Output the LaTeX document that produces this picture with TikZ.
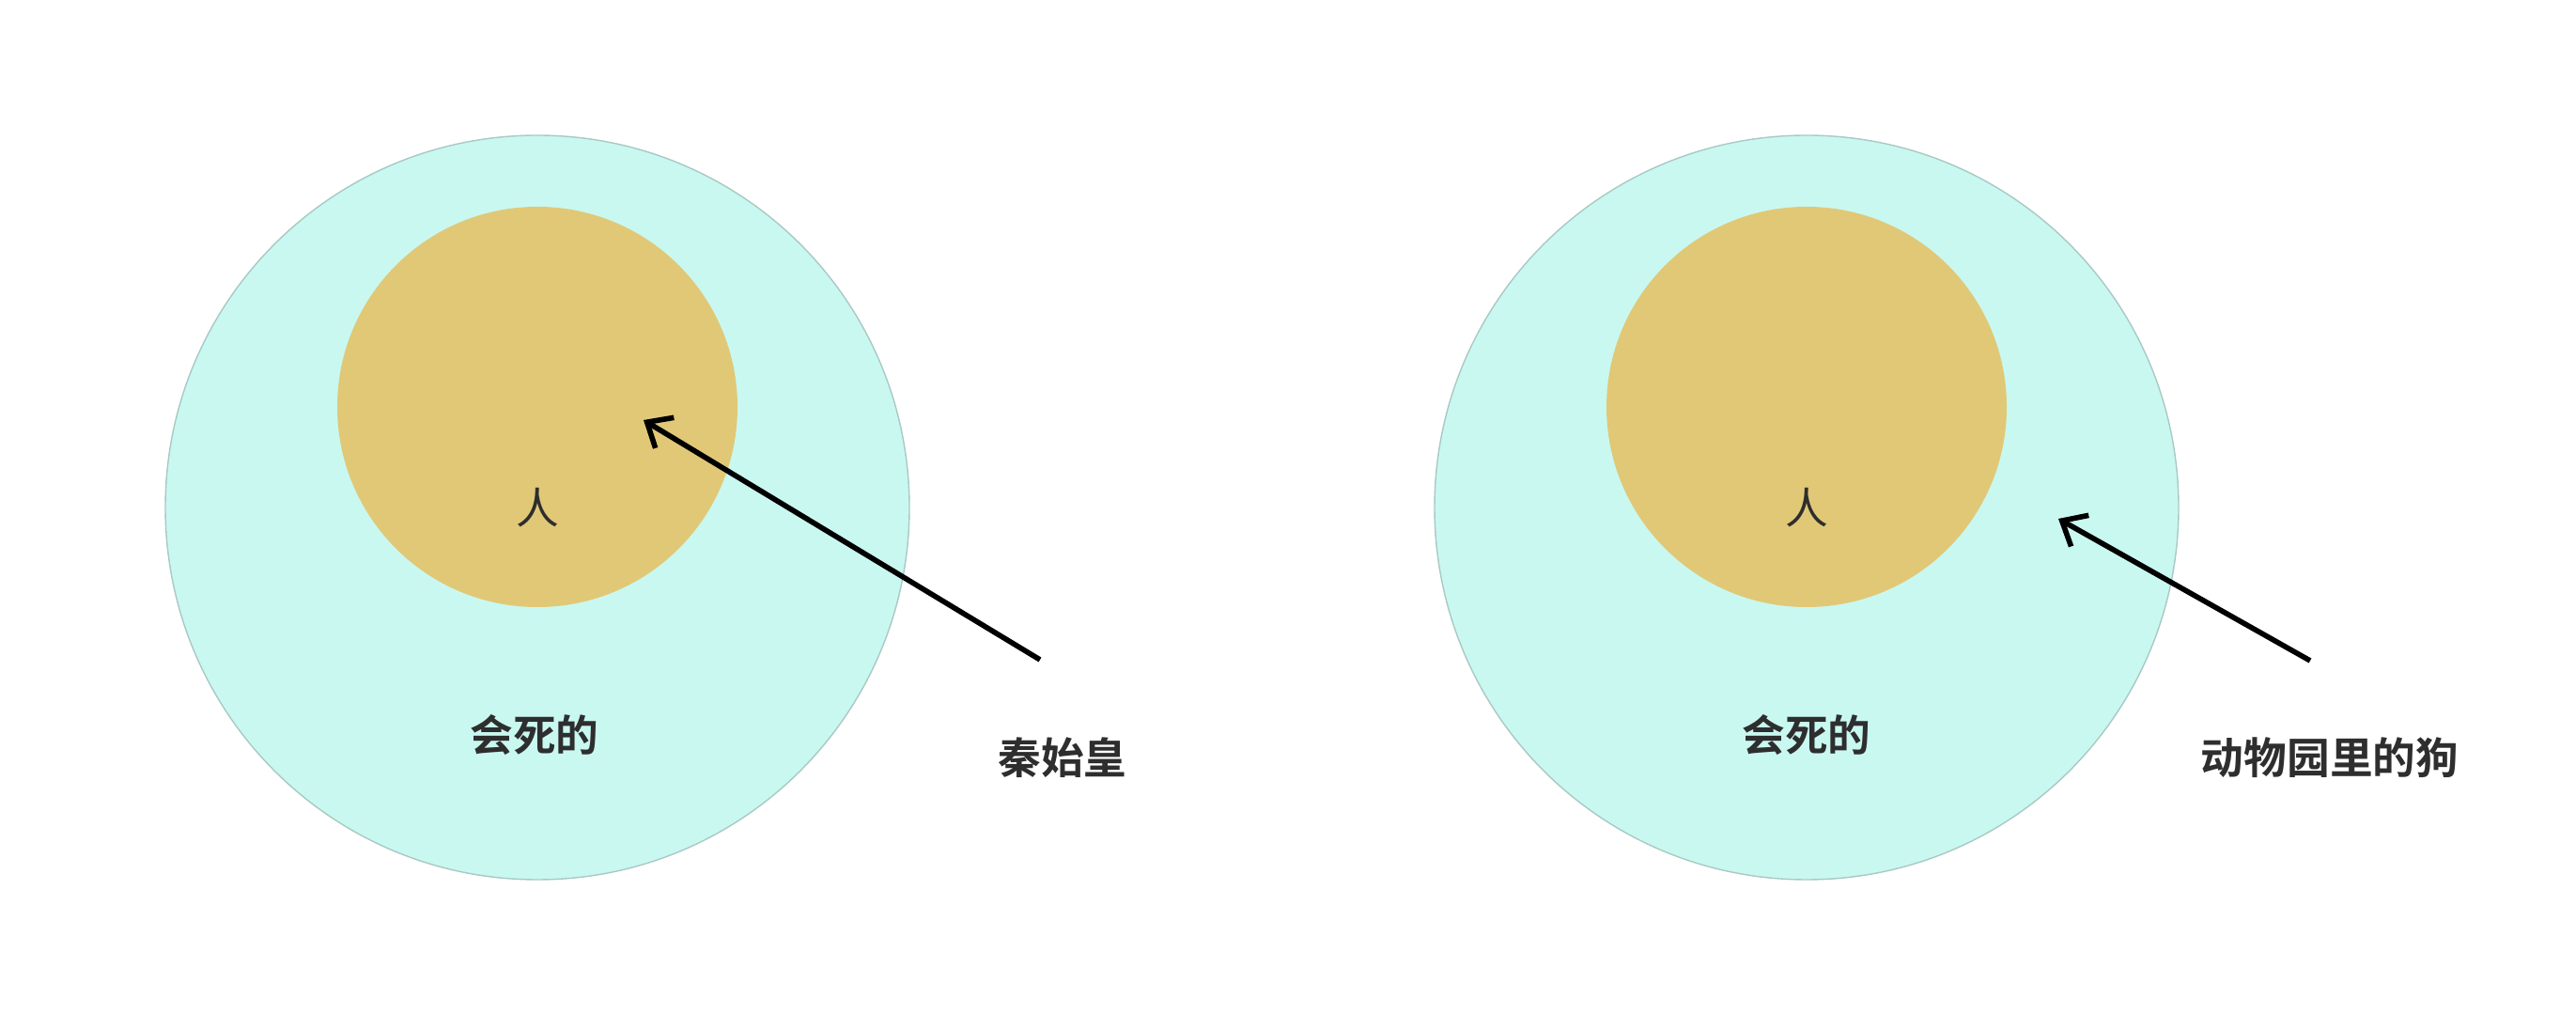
\documentclass[tikz,border=0pt]{standalone}
\usepackage{fontspec}
\usepackage{tikz}
\setmainfont{Noto Sans CJK SC}[BoldFont={Noto Sans CJK SC Bold}]
\usetikzlibrary{positioning}
\usetikzlibrary{arrows.meta}
\definecolor{mortalfill}{HTML}{C9F8F1}
\definecolor{mortalline}{HTML}{A9C9C4}
\definecolor{humanfill}{HTML}{E1C876}
\definecolor{textgray}{HTML}{2E2E2E}

\begin{document}
\begin{tikzpicture}[every node/.style={text=textgray, font=\fontsize{13}{15}\selectfont}, setlabel/.style={font=\fontsize{13}{15}\selectfont\bfseries}, node distance=2cm, >={Straight Barb[length=2.2mm, width=3.8mm, line width=1.6pt]}]
        \useasboundingbox (0,0) rectangle (27.42,10.80);
        \fill[white] (0,0) rectangle (27.42,10.80);

        % First group: 秦始皇
        % Outer set
        \node[draw=mortalline, line width=0.4pt, fill=mortalfill, circle, minimum size=7.92cm, inner sep=0pt] (mortal) at (5.72,5.40) {};
        % Inner set
        \node[fill=humanfill, circle, minimum size=4.26cm, inner sep=0pt] (human) at (5.72,6.47) {};
        % Labels
        \node (human_label) at (mortal.center) {人};
        \node[setlabel, below of=human_label, yshift=-0.42cm, xshift=-0.03cm] (mortal_label) {会死的};
        % Element and arrow
        \node[setlabel] (emperor) at (11.31,2.74) {秦始皇};
        \coordinate (emperor_tail) at (11.07,3.78);
        \coordinate (emperor_tip) at (6.85,6.33);
        \draw[->, line width=1.6pt, black] (emperor_tail) -- (emperor_tip);

        % Second group: 动物园里的狗
        % Outer set
        \node[draw=mortalline, line width=0.4pt, fill=mortalfill, circle, minimum size=7.92cm, inner sep=0pt, right of=mortal, xshift=11.51cm] (mortal_dog) {};
        % Inner set
        \node[fill=humanfill, circle, minimum size=4.26cm, inner sep=0pt, above of=mortal_dog, yshift=-0.93cm] (human_dog) {};
        % Labels
        \node (human_label_dog) at (mortal_dog.center) {人};
        \node[setlabel, below of=human_label_dog, yshift=-0.42cm] (mortal_label_dog) {会死的};
        % Element and arrow
        \node[setlabel] (dog) at (24.80,2.74) {动物园里的狗};
        \coordinate (dog_tail) at (24.59,3.77);
        \coordinate (dog_tip) at (21.91,5.28);
        \draw[->, line width=1.6pt, black] (dog_tail) -- (dog_tip);
    \end{tikzpicture}
\end{document}
